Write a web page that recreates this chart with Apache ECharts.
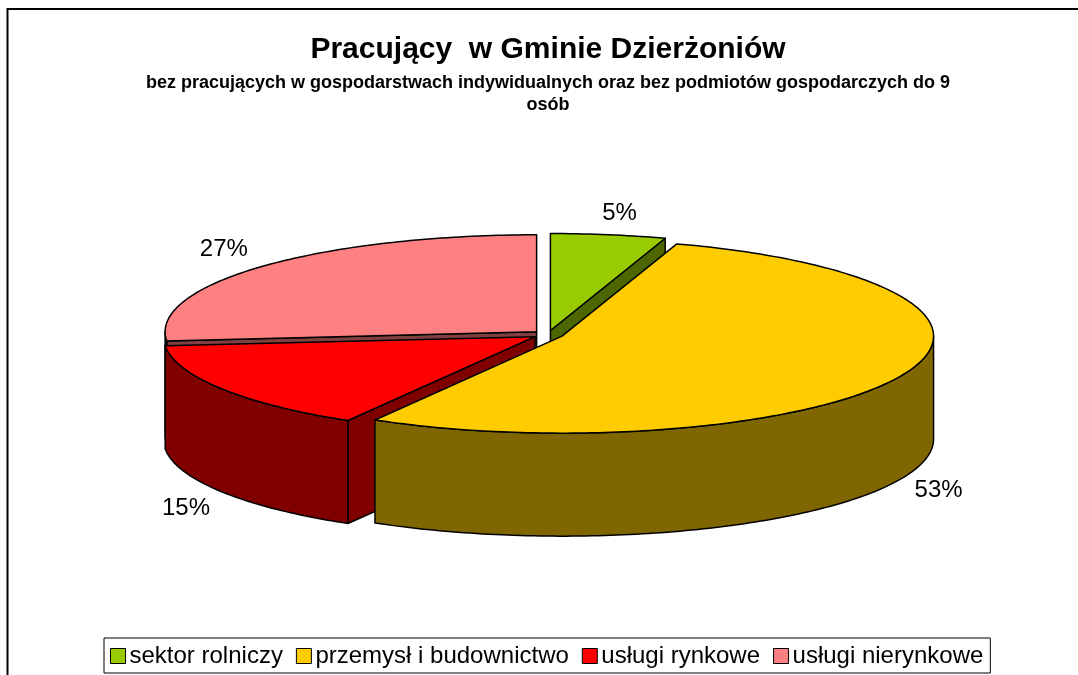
<!DOCTYPE html>
<html>
<head>
<meta charset="utf-8">
<title>Pracujący w Gminie Dzierżoniów</title>
<style>
  html, body { margin: 0; padding: 0; background: #fff; }
  #chart { width: 1078px; height: 675px; }
</style>
<script src="https://cdn.jsdelivr.net/npm/echarts@6/dist/echarts.min.js"></script>
</head>
<body>
<div id="chart"></div>
<script>
// dane
var categories = ['sektor rolniczy', 'przemysł i budownictwo', 'usługi rynkowe', 'usługi nierynkowe'];
var shares = [5.0, 53.4, 15.1, 26.5];
var topColors = ['#99CC00', '#FFCC00', '#FF0000', '#FF8080'];
var sideColors = ['#4D6600', '#806600', '#800000', '#804040'];
var drawOrder = [2, 4, 3, 1]; // z: from the back slice to the front one
var labelShift = [[11, -21], [37.5, 115], [-36, 119], [-38, -17]];

// pie geometry in pixels
var cx = 548, cy = 334.5, rx = 371.5, ry = 97, depth = 103, explode = 15.4;
var edge = { stroke: '#000', lineWidth: 1.5, lineJoin: 'round' };
var total = shares.reduce(function (a, b) { return a + b; }, 0);

function rad(deg) { return deg * Math.PI / 180; }

function arcPoints(c, from, to, dy) {
  var pts = [];
  var steps = Math.max(2, Math.ceil(Math.abs(to - from)));
  for (var i = 0; i <= steps; i++) {
    var a = rad(from + (to - from) * i / steps);
    pts.push([c[0] + rx * Math.sin(a), c[1] - ry * Math.cos(a) + dy]);
  }
  return pts;
}

function renderSlice(idx) {
  return function (params, api) {
    var value = api.value(0);
    var before = 0;
    for (var i = 0; i < idx; i++) before += shares[i];
    var start = before / total * 360;
    var end = start + value / total * 360;
    var mid = rad((start + end) / 2);
    // wysunięty środek wycinka
    var c = [cx + explode * Math.sin(mid), cy - explode * ry / rx * Math.cos(mid)];
    var side = Object.assign({ fill: sideColors[idx] }, edge);
    var children = [];

    function radialFace(ang) {
      var p = arcPoints(c, ang, ang, 0)[0];
      children.push({
        type: 'polygon',
        shape: { points: [c, p, [p[0], p[1] + depth], [c[0], c[1] + depth]] },
        style: side
      });
    }
    // only the cut faces turned towards the viewer
    if (Math.sin(rad(start)) < -0.001) radialFace(start);
    if (Math.sin(rad(end)) > 0.001) radialFace(end);

    var wallFrom = Math.max(start, 90), wallTo = Math.min(end, 270);
    if (wallFrom < wallTo) {
      var wall = arcPoints(c, wallFrom, wallTo, 0)
        .concat(arcPoints(c, wallTo, wallFrom, depth));
      children.push({ type: 'polygon', shape: { points: wall }, style: side });
    }

    children.push({
      type: 'polygon',
      shape: { points: [c].concat(arcPoints(c, start, end, 0)) },
      style: Object.assign({ fill: topColors[idx] }, edge)
    });

    var out = arcPoints(c, (start + end) / 2, (start + end) / 2, 0)[0];
    children.push({
      type: 'text',
      style: {
        text: Math.round(value) + '%',
        x: out[0] + labelShift[idx][0],
        y: out[1] + labelShift[idx][1],
        fill: '#000',
        font: '24px "Liberation Sans", Arial, sans-serif',
        align: 'center',
        verticalAlign: 'middle'
      }
    });
    return { type: 'group', children: children };
  };
}

var series = categories.map(function (name, idx) {
  return {
    name: name,
    type: 'custom',
    coordinateSystem: 'none',
    z: drawOrder[idx],
    silent: true,
    itemStyle: { color: topColors[idx] },
    data: [[shares[idx]]],
    renderItem: renderSlice(idx)
  };
});

var myChart = echarts.init(document.getElementById('chart'), null, { renderer: 'canvas' });

myChart.setOption({
  animation: false,
  backgroundColor: '#fff',
  title: {
    text: 'Pracujący  w Gminie Dzierżoniów',
    subtext: 'bez pracujących w gospodarstwach indywidualnych oraz bez podmiotów gospodarczych do 9\nosób',
    left: 548,
    top: 35,
    textAlign: 'center',
    itemGap: 7,
    padding: 0,
    textStyle: { fontFamily: 'Liberation Sans', fontSize: 30, fontWeight: 'bold', color: '#000' },
    subtextStyle: { fontFamily: 'Liberation Sans', fontSize: 18, fontWeight: 'bold', color: '#000', lineHeight: 22 }
  },
  legend: {
    data: categories,
    left: 104,
    top: 638,
    icon: 'rect',
    itemWidth: 15,
    itemHeight: 15,
    itemGap: 13,
    padding: [6, 7, 5, 6],
    borderColor: '#000',
    borderWidth: 1,
    backgroundColor: '#fff',
    selectedMode: false,
    itemStyle: { borderColor: '#000', borderWidth: 1 },
    textStyle: { fontFamily: 'Liberation Sans', fontSize: 24, color: '#000', padding: [0, 0, 0, -1] }
  },
  graphic: [{
    type: 'polyline',
    silent: true,
    shape: { points: [[7.5, 675], [7.5, 9], [1078, 9]] },
    style: { fill: null, stroke: '#000', lineWidth: 2 }
  }],
  series: series
});
</script>
</body>
</html>
